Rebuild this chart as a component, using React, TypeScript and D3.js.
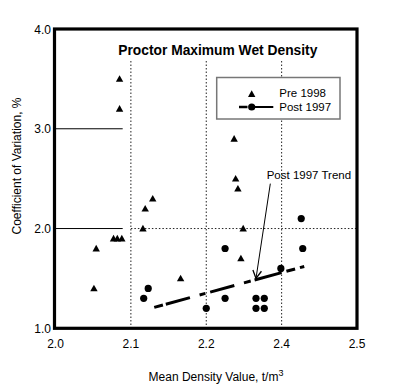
import React from "react";
import * as d3 from "d3";

const xTickValues = [2.0, 2.1, 2.2, 2.3, 2.4];
const xTickLabels = ["2.0", "2.1", "2.2", "2.4", "2.5"];
const yTickValues = [1.0, 2.0, 3.0, 4.0];
const yTickLabels = ["1.0", "2.0", "3.0", "4.0"];

const pre1998X = [2.085, 2.085, 2.054, 2.051, 2.077, 2.082, 2.088, 2.116, 2.119, 2.129, 2.166, 2.237, 2.239, 2.242, 2.249, 2.246];
const pre1998Y = [3.5, 3.2, 1.8, 1.4, 1.9, 1.9, 1.9, 2.0, 2.2, 2.3, 1.5, 2.9, 2.5, 2.4, 2.0, 1.7];

const post1997X = [2.117, 2.123, 2.2, 2.225, 2.225, 2.266, 2.277, 2.266, 2.277, 2.299, 2.326, 2.328];
const post1997Y = [1.3, 1.4, 1.2, 1.8, 1.3, 1.3, 1.3, 1.2, 1.2, 1.6, 2.1, 1.8];

const trendX = [2.131, 2.33];
const trendY = [1.21, 1.62];

const arrowFrom = [2.285, 2.45];
const arrowTo = [2.266, 1.5];

const W = 418;
const H = 392;
const font = "Liberation Sans, Arial, Helvetica, sans-serif";

export default function App() {
  const x = d3.scaleLinear().domain([2.0, 2.4]).range([55.5, 357]);
  const y = d3.scaleLinear().domain([1.0, 4.0]).range([328.3, 29]);
  const [x0, x1] = x.range();
  const [yb, yt] = y.range();

  const tri = (cx: number, cy: number) =>
    `M${cx},${cy - 3.7}L${cx + 3.7},${cy + 2.9}L${cx - 3.7},${cy + 2.9}Z`;

  const line = d3.line<number>().x((d, i) => x(trendX[i])).y((d, i) => y(trendY[i]));

  const ax1 = x(arrowFrom[0]), ay1 = y(arrowFrom[1]);
  const ax2 = x(arrowTo[0]), ay2 = y(arrowTo[1]);
  const ang = Math.atan2(ay2 - ay1, ax2 - ax1);
  const hl = 9, hw = 0.5;
  const w1x = ax2 - hl * Math.cos(ang - hw), w1y = ay2 - hl * Math.sin(ang - hw);
  const w2x = ax2 - hl * Math.cos(ang + hw), w2y = ay2 - hl * Math.sin(ang + hw);

  const dot = "1.5 2";

  return (
    <svg width={W} height={H} style={{ position: "absolute", left: 0, top: 0 }} fontFamily={font}>
      <rect x={0} y={0} width={W} height={H} fill="#fff" />
      {xTickValues.slice(1, 4).map((v) => (
        <line key={v} x1={x(v)} x2={x(v)} y1={61} y2={yb} stroke="#222" strokeWidth={1} strokeDasharray={dot} />
      ))}
      <line x1={x(2.1)} x2={x1} y1={y(2.0)} y2={y(2.0)} stroke="#222" strokeWidth={1} strokeDasharray={dot} />
      {[2.0, 3.0].map((v) => (
        <line key={v} x1={x0} x2={122.7} y1={y(v)} y2={y(v)} stroke="#000" strokeWidth={1} />
      ))}
      <rect x={216.7} y={77.5} width={123.3} height={41.5} fill="#fff" stroke="#777" strokeWidth={1.5} />
      <path d={tri(251.7, 94)} fill="#000" />
      <text x={279.3} y={96.5} fontSize={11.5} fill="#000">Pre 1998</text>
      <line x1={239} x2={247.5} y1={107} y2={107} stroke="#000" strokeWidth={2.5} />
      <line x1={251.7} x2={273.3} y1={107} y2={107} stroke="#000" strokeWidth={2} />
      <circle cx={251.7} cy={107} r={3.6} fill="#000" />
      <text x={279.3} y={111} fontSize={11.5} fill="#000">Post 1997</text>
      <text x={217.8} y={55} fontSize={13.8} fontWeight="bold" textAnchor="middle" fill="#000">Proctor Maximum Wet Density</text>
      <path d={line(trendX) || ""} fill="none" stroke="#000" strokeWidth={3} strokeDasharray="9 3 25 10 6 5 25 10 7 4 28 5 9 5 5 40" />
      {pre1998X.map((v, i) => (
        <path key={"t" + i} d={tri(x(v), y(pre1998Y[i]))} fill="#000" />
      ))}
      {post1997X.map((v, i) => (
        <circle key={"c" + i} cx={x(v)} cy={y(post1997Y[i])} r={3.6} fill="#000" />
      ))}
      <line x1={ax1} y1={ay1} x2={ax2} y2={ay2} stroke="#000" strokeWidth={1} />
      <polyline points={`${w1x},${w1y} ${ax2},${ay2} ${w2x},${w2y}`} fill="none" stroke="#000" strokeWidth={1.3} />
      <text x={266.7} y={178.5} fontSize={11.5} fill="#000">Post 1997 Trend</text>
      <rect x={x0 - 1} y={yt} width={x1 - x0 + 1} height={yb - yt} fill="none" stroke="#000" strokeWidth={3.2} />
      {xTickValues.map((v, i) => (
        <text key={v} x={x(v)} y={347.5} fontSize={12} textAnchor="middle" fill="#000">{xTickLabels[i]}</text>
      ))}
      {yTickValues.map((v, i) => (
        <text key={v} x={51} y={y(v) + 4.5} fontSize={12} textAnchor="end" fill="#000">{yTickLabels[i]}</text>
      ))}
      <text x={216} y={381} fontSize={12} textAnchor="middle" fill="#000">
        Mean Density Value, t/m<tspan dy={-5} fontSize={9}>3</tspan>
      </text>
      <text transform="translate(21,166) rotate(-90)" fontSize={12} textAnchor="middle" fill="#000">Coefficient of Variation, %</text>
    </svg>
  );
}
